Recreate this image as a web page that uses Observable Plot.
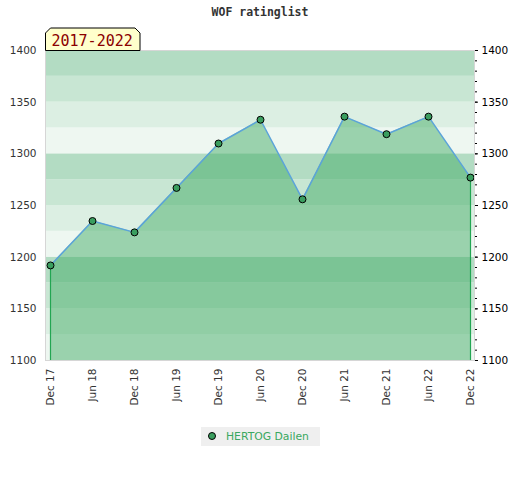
<!DOCTYPE html>
<html><head><meta charset="utf-8">
<script src="https://cdn.jsdelivr.net/npm/d3@7"></script>
<script src="https://cdn.jsdelivr.net/npm/@observablehq/plot@0.6"></script>
<style>
body{margin:0;background:#fff;}
#wrap{position:relative;width:520px;height:480px;font-family:"DejaVu Sans",sans-serif;}
#title{position:absolute;top:5px;left:0;width:520px;text-align:center;font:bold 11.5px "DejaVu Sans Mono",monospace;color:#333;}
#chart{position:absolute;top:0;left:0;}
#badge{position:absolute;left:44px;top:27px;}
#legend{position:absolute;left:201px;top:427px;width:119px;height:19px;background:#efefef;font:10.8px "DejaVu Sans",sans-serif;color:#3aa860;}
#legend svg{position:absolute;left:6px;top:4px;}
#legend span{position:absolute;left:25px;top:3px;}
</style></head>
<body>
<div id="wrap">
  <div id="chart"></div>
  <div id="title">WOF ratinglist</div>
  <svg id="badge" width="100" height="26">
    <polygon points="1.5,23.5 1.5,6 6.5,1 91,1 96,6 96,23.5" fill="#ffffcc" stroke="#000" stroke-width="1"/>
    <text x="7.5" y="18.5" font-family="DejaVu Sans Mono, monospace" font-size="15" fill="#8b0000">2017-2022</text>
  </svg>
  <div id="legend"><svg width="12" height="12"><circle cx="5" cy="5" r="3.5" fill="#3a9e5f" stroke="#000" stroke-width="1"/></svg><span>HERTOG Dailen</span></div>
</div>
<script>
const periods = ["Dec 17","Jun 18","Dec 18","Jun 19","Dec 19","Jun 20","Dec 20","Jun 21","Dec 21","Jun 22","Dec 22"];
const ratings = [1192, 1235, 1224, 1267, 1310, 1333, 1256, 1336, 1319, 1336, 1277];
const yTicks = [1100, 1150, 1200, 1250, 1300, 1350, 1400];
const yMinorTicks = d3.range(1100, 1401, 10);
const bandStarts = d3.range(1100, 1400, 25);
const bandShades = ["#b3dcc3", "#c8e6d3", "#dcefe3", "#eef7f1"];

const data = periods.map((p, i) => ({period: p, rating: ratings[i]}));
const bands = bandStarts.map((v, i) => ({y1: v, y2: v + 25, shade: bandShades[3 - (i % 4)]}));
const fmt = d3.format("d");

const chart = Plot.plot({
  width: 520,
  height: 420,
  marginTop: 50,
  marginBottom: 60,
  marginLeft: 45,
  marginRight: 46,
  style: {fontFamily: "DejaVu Sans, sans-serif", fontSize: "10.5px", color: "#333", background: "transparent"},
  x: {type: "point", domain: periods, padding: 0.07},
  y: {domain: [1100, 1400]},
  marks: [
    Plot.rect(bands, {y1: "y1", y2: "y2", fill: d => d.shade}),
    Plot.areaY(data, {x: "period", y1: 1100, y2: "rating", fill: "#3eaa63", fillOpacity: 0.48}),
    Plot.ruleX([data[0], data[data.length - 1]], {x: "period", y1: 1100, y2: "rating", stroke: "#22a552", strokeWidth: 1.2}),
    Plot.lineY(data, {x: "period", y: "rating", stroke: "#5ba3d9", strokeWidth: 1.5}),
    Plot.dot(data, {x: "period", y: "rating", r: 3.5, fill: "#3a9e5f", stroke: "#000", strokeWidth: 1}),
    Plot.frame({stroke: "#d6d6d6"}),
    Plot.axisY({anchor: "left", ticks: yTicks, tickSize: 0, tickPadding: 9, tickFormat: fmt, label: null}),
    Plot.axisY({anchor: "right", ticks: yMinorTicks, tickSize: 2, tickFormat: () => "", label: null, stroke: "#000"}),
    Plot.axisY({anchor: "right", ticks: yTicks, tickSize: 3, tickPadding: 4, tickFormat: fmt, label: null, stroke: "#000", fill: "#000"}),
    Plot.axisX({anchor: "bottom", tickSize: 0, tickPadding: 8, tickRotate: -90, label: null})
  ]
});
document.getElementById("chart").append(chart);
</script>
</body></html>
